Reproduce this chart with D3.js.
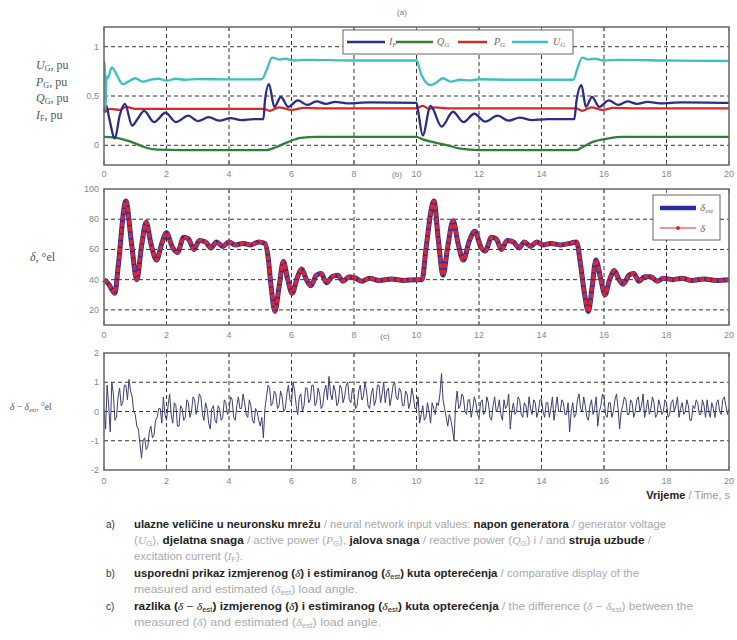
<!DOCTYPE html>
<html>
<head>
<meta charset="utf-8">
<script src="https://cdn.jsdelivr.net/npm/d3@7"></script>
<style>
body { margin: 0; background: #fff; }
svg { display: block; }
</style>
</head>
<body>
<div id="chart"></div>
<script>
var xTicks = [0, 2, 4, 6, 8, 10, 12, 14, 16, 18, 20];
var aTicks = [0, 0.5, 1];
var aTickLabels = ["0", "0,5", "1"];
var bTicks = [20, 40, 60, 80, 100];
var cTicks = [-2, -1, 0, 1, 2];

// (a) [time s, value pu]
var uG = [[0,0.84],[0.03,0.84],[0.05,0.37],[0.08,0.70],[0.12,0.68],[0.25,0.79],[0.4,0.72],[0.6,0.62],[0.8,0.65],[1.0,0.68],[1.25,0.645],[1.5,0.665],[1.75,0.675],[2.0,0.655],[2.3,0.675],[2.6,0.665],[3,0.672],[4,0.668],[5.05,0.67],[5.2,0.76],[5.38,0.89],[5.6,0.87],[5.8,0.878],[6.1,0.86],[6.5,0.866],[8,0.86],[10.0,0.86],[10.15,0.72],[10.45,0.61],[10.65,0.64],[10.85,0.68],[11.1,0.645],[11.4,0.665],[11.7,0.658],[12,0.67],[13,0.665],[15.02,0.665],[15.15,0.78],[15.3,0.89],[15.5,0.87],[15.7,0.878],[16,0.86],[16.5,0.866],[18,0.86],[20,0.855]];
var iF = [[0,0.35],[0.08,0.40],[0.15,0.30],[0.35,0.07],[0.5,0.30],[0.67,0.42],[0.9,0.20],[1.1,0.28],[1.28,0.35],[1.6,0.235],[1.97,0.33],[2.3,0.235],[2.7,0.30],[3.0,0.245],[3.35,0.285],[3.7,0.25],[4.05,0.275],[4.4,0.255],[4.8,0.265],[5.1,0.265],[5.15,0.45],[5.28,0.62],[5.45,0.39],[5.66,0.49],[5.9,0.39],[6.2,0.455],[6.5,0.41],[6.8,0.445],[7.1,0.42],[7.4,0.44],[7.8,0.425],[8.5,0.435],[10.0,0.43],[10.05,0.35],[10.2,0.10],[10.45,0.40],[10.8,0.19],[11.17,0.34],[11.5,0.235],[11.85,0.32],[12.2,0.24],[12.6,0.30],[12.95,0.25],[13.3,0.28],[13.7,0.255],[14.2,0.265],[15.05,0.265],[15.12,0.45],[15.28,0.61],[15.42,0.39],[15.62,0.49],[15.85,0.39],[16.15,0.455],[16.45,0.41],[16.75,0.445],[17.05,0.42],[17.4,0.44],[17.8,0.425],[18.5,0.435],[20,0.43]];
var pG = [[0,0.33],[0.2,0.37],[0.5,0.36],[0.7,0.39],[1.0,0.37],[1.5,0.37],[5.1,0.37],[5.3,0.35],[5.6,0.385],[6.0,0.36],[6.4,0.38],[7,0.375],[10.0,0.375],[10.2,0.40],[10.4,0.37],[10.6,0.385],[11,0.375],[15.1,0.375],[15.3,0.35],[15.6,0.385],[15.95,0.36],[16.3,0.38],[17,0.375],[20,0.375]];
var qG = [[0,0.085],[0.3,0.08],[0.6,0.06],[1.0,0.02],[1.3,-0.02],[1.7,-0.045],[2.5,-0.05],[5.15,-0.05],[5.5,-0.02],[5.9,0.035],[6.3,0.075],[6.8,0.085],[10.0,0.085],[10.2,0.06],[10.5,0.035],[11.0,0.0],[11.4,-0.035],[12.0,-0.05],[15.1,-0.05],[15.3,-0.02],[15.6,0.03],[16.15,0.07],[16.6,0.085],[20,0.085]];

// (b) load angle [time s, deg el]
var delta = [[0,40],[0.15,37],[0.35,31],[0.45,48],[0.7,92],[0.88,64],[1.05,40],[1.2,62],[1.35,78],[1.5,64],[1.68,53],[1.85,64],[2.0,71],[2.18,62],[2.35,58],[2.55,68],[2.7,67],[2.88,60],[3.05,66],[3.25,65],[3.42,61],[3.6,65],[3.8,62],[4.0,65],[4.2,63],[4.45,64],[4.7,63],[4.95,65],[5.15,64],[5.25,55],[5.35,35],[5.47,19],[5.6,35],[5.74,52],[5.88,40],[6.02,31],[6.18,41],[6.32,47],[6.48,40],[6.62,36],[6.8,43],[6.95,44],[7.12,38],[7.3,42],[7.48,43],[7.65,39],[7.85,42],[8.05,41],[8.25,39],[8.5,41],[8.8,39.5],[9.2,40.5],[9.6,39.5],[10.0,40],[10.18,40],[10.3,60],[10.56,92],[10.7,66],[10.85,43],[11.0,62],[11.17,79],[11.33,64],[11.5,53],[11.68,65],[11.87,72],[12.05,62],[12.2,59],[12.4,68],[12.55,67],[12.72,60],[12.9,66],[13.1,65],[13.28,61],[13.45,65],[13.65,62],[13.85,65],[14.05,63],[14.3,64],[14.6,63],[14.9,64],[15.12,65],[15.25,50],[15.38,30],[15.5,19],[15.62,35],[15.74,53],[15.9,40],[16.03,30],[16.18,40],[16.33,46],[16.48,40],[16.62,37],[16.8,43],[16.95,44],[17.12,39],[17.3,42],[17.5,42],[17.7,39],[17.9,41],[18.2,40],[18.5,41],[18.8,39.5],[19.2,40.5],[19.6,39.5],[20,40]];

// (c) difference, one value every 0.05 s from 0 to 20 s
var diffStep = 0.05;
var diff = [
  0.1, -0.6, 0.9, 0.2, -0.7, 1.0, 0.6, -0.3, -0.2, 0.5,
  0.8, 0.2, 0.3, 0.9, 0.9, 0.4, 1.1, 0.7, 0.5, 0.0,
  -0.1, -0.5, -0.6, -1.1, -1.6, -1.0, -0.9, -1.3, -1.2, -0.7,
  -0.5, -0.9, -0.8, -0.3, -0.2, 0.1, 0.1, -0.4, 0.5, -0.1,
  -0.3, 0.2, 0.6, -0.1, -0.4, 0.3, 0.2, -0.5, -0.5, 0.2,
  0.1, -0.3, -0.2, 0.4, 0.3, -0.2, 0.0, 0.5, 0.4, -0.1,
  0.2, 0.6, 0.5, -0.1, -0.3, 0.3, 0.1, -0.4, -0.6, 0.1,
  0.2, -0.3, -0.4, 0.2, 0.1, -0.3, -0.2, 0.4, 0.3, -0.1,
  0.0, 0.5, 0.4, -0.2, -0.3, 0.2, 0.5, 0.1, 0.1, 0.6,
  0.3, -0.1, -0.2, 0.4, 0.2, -0.3, -0.4, 0.1, 0.0, -0.3,
  -0.5, -0.2, -0.9, 0.1, 0.5, 0.9, 0.8, 0.2, 0.3, 0.7,
  0.6, 0.1, 0.2, 0.7, 0.5, 0.0, 0.1, 0.6, 0.9, 0.4,
  0.3, 1.0, 0.7, 0.2, -0.1, 0.5, 0.6, 0.0, 0.2, 0.8,
  0.8, 0.3, 0.4, 0.9, 0.9, 0.2, 0.3, 0.8, 0.6, 0.1,
  0.2, 0.7, 0.9, 0.4, 1.2, 0.6, 0.4, 0.9, 0.7, 0.2,
  0.3, 0.9, 0.8, 0.3, 0.5, 0.9, 1.0, 0.4, 0.3, 0.8,
  0.6, 0.1, 0.2, 0.7, 0.9, 0.4, 0.5, 1.0, 0.7, 0.2,
  0.1, 0.6, 0.8, 0.2, 0.4, 0.9, 0.9, 0.3, 0.6, 1.0,
  0.3, 0.7, 0.8, 0.2, 0.5, 0.9, 1.0, 0.5, 0.4, 0.8,
  0.7, 0.2, 0.2, 0.7, 0.6, 0.1, 0.3, 0.8, 0.5, 0.1,
  0.1, 0.5, -0.4, -0.1, 0.2, -0.3, -0.2, 0.3, 0.0, -0.4,
  0.3, 0.1, -0.1, 0.3, 0.2, 0.6, 1.3, 0.4, 0.1, -0.2,
  -0.5, -0.1, -0.3, -0.6, -1.0, 0.2, 0.7, 0.1, 0.2, 0.6,
  0.5, 0.0, -0.1, 0.4, 0.4, -0.2, 0.1, 0.5, 0.3, -0.1,
  -0.2, 0.3, 0.4, -0.1, 0.0, 0.5, 0.3, -0.2, -0.3, 0.2,
  0.5, 0.0, 0.1, 0.4, -0.1, -0.3, 0.4, 0.1, 0.2, 0.6,
  -0.6, 0.0, 0.3, -0.1, 0.0, 0.5, 0.4, -0.1, -0.2, 0.3,
  0.2, -0.2, 0.5, 0.1, -0.1, 0.4, 0.3, -0.2, 0.0, 0.4,
  0.4, 0.0, -0.2, 0.3, 0.3, -0.2, 0.1, 0.5, -0.3, 0.1,
  0.5, 0.0, 0.0, 0.4, 0.3, -0.1, -0.1, 0.3, -0.7, 0.0,
  0.3, -0.2, -0.1, 0.4, 0.6, 0.1, 0.0, 0.5, 0.2, -0.2,
  -0.3, 0.2, 0.4, -0.1, 0.1, 0.5, -0.5, 0.0, 0.2, 0.6,
  0.5, -0.1, -0.2, 0.3, 0.3, -0.2, 0.0, 0.4, 0.6, 0.1,
  -0.6, 0.0, 0.2, 0.5, 0.4, -0.1, -0.1, 0.4, 0.3, -0.2,
  0.0, 0.4, 0.5, 0.0, 0.2, 0.6, -0.2, 0.1, 0.4, -0.1,
  0.1, 0.5, 0.3, -0.2, -0.1, 0.4, 0.2, -0.1, 0.0, 0.4,
  0.3, -0.2, -0.1, 0.3, 0.4, 0.0, 0.2, 0.5, -0.2, 0.1,
  0.3, -0.1, 0.0, 0.4, 0.2, -0.3, -0.3, 0.2, 0.1, 0.4,
  0.3, -0.1, -0.1, 0.4, 0.2, -0.2, 0.4, 0.0, -0.2, 0.3,
  0.1, -0.2, 0.3, 0.4, 0.0, -0.1, 0.4, 0.5, 0.2, -0.1,
  0.1
];

function init() {
    var w = 737, h = 640;
    var left = 104, right = 729;
    var serif = "'Liberation Serif', 'DejaVu Serif', serif";
    var sans = "'Liberation Sans', Arial, sans-serif";

    var svg = d3.select("#chart").append("svg")
        .attr("width", w).attr("height", h);

    var x = d3.scaleLinear().domain([0, 20]).range([left, right]);

    function panel(top, bottom, domain, gridVals, tickVals, tickFmt, tickLabelY) {
        var y = d3.scaleLinear().domain(domain).range([bottom, top]);
        var g = svg.append("g");
        // grid
        g.selectAll(".vg").data(xTicks.slice(1, -1)).enter().append("line")
            .attr("x1", function(d) { return x(d); }).attr("x2", function(d) { return x(d); })
            .attr("y1", top).attr("y2", bottom)
            .attr("stroke", "#333").attr("stroke-width", 1).attr("stroke-dasharray", "4,3");
        g.selectAll(".hg").data(gridVals).enter().append("line")
            .attr("x1", left).attr("x2", right)
            .attr("y1", function(d) { return y(d); }).attr("y2", function(d) { return y(d); })
            .attr("stroke", "#333").attr("stroke-width", 1).attr("stroke-dasharray", "4,3");
        // y tick labels
        g.selectAll(".yl").data(tickVals).enter().append("text")
            .attr("x", left - 5).attr("y", function(d) { return y(d) + 3; })
            .attr("text-anchor", "end")
            .attr("font-family", sans).attr("font-size", 9).attr("fill", "#888")
            .text(function(d, i) { return tickFmt(d, i); });
        // x tick labels
        g.selectAll(".xl").data(xTicks).enter().append("text")
            .attr("x", function(d) { return x(d); }).attr("y", tickLabelY)
            .attr("text-anchor", "middle")
            .attr("font-family", sans).attr("font-size", 9).attr("fill", "#888")
            .text(function(d) { return d; });
        return { y: y, g: g, top: top, bottom: bottom };
    }

    function frame(p) {
        svg.append("rect").attr("x", left).attr("y", p.top)
            .attr("width", right - left).attr("height", p.bottom - p.top)
            .attr("fill", "none").attr("stroke", "#666").attr("stroke-width", 1.5);
        // inner ticks
        xTicks.forEach(function(d) {
            svg.append("line").attr("x1", x(d)).attr("x2", x(d))
                .attr("y1", p.bottom).attr("y2", p.bottom - 4).attr("stroke", "#666");
            svg.append("line").attr("x1", x(d)).attr("x2", x(d))
                .attr("y1", p.top).attr("y2", p.top + 4).attr("stroke", "#666");
        });
    }

    // ---------- (a)
    var pa = panel(27, 165, [-0.2, 1.2], aTicks, aTicks,
        function(d, i) { return aTickLabels[i]; }, 177);
    var lineA = d3.line().x(function(d) { return x(d[0]); }).y(function(d) { return pa.y(d[1]); })
        .curve(d3.curveMonotoneX);
    var seriesA = [
        { data: qG, color: "#2f7f3a" },
        { data: pG, color: "#d42a2a" },
        { data: iF, color: "#2a2e86" },
        { data: uG, color: "#3fbfbf" }
    ];
    seriesA.forEach(function(s) {
        svg.append("path").datum(s.data).attr("d", lineA)
            .attr("fill", "none").attr("stroke", s.color).attr("stroke-width", 2.3);
    });
    frame(pa);

    // legend (a)
    var lg = svg.append("g");
    lg.append("rect").attr("x", 343).attr("y", 30).attr("width", 230).attr("height", 24)
        .attr("fill", "#fff").attr("stroke", "#666").attr("stroke-width", 1);
    var legA = [
        { x1: 347, x2: 385, color: "#2a2e86", main: "I", sub: "F", tx: 389 },
        { x1: 396, x2: 433, color: "#2f7f3a", main: "Q", sub: "G", tx: 437 },
        { x1: 458, x2: 487, color: "#d42a2a", main: "P", sub: "G", tx: 494 },
        { x1: 512, x2: 548, color: "#3fbfbf", main: "U", sub: "G", tx: 553 }
    ];
    legA.forEach(function(l) {
        lg.append("line").attr("x1", l.x1).attr("x2", l.x2).attr("y1", 42).attr("y2", 42)
            .attr("stroke", l.color).attr("stroke-width", 2.5);
        var t = lg.append("text").attr("x", l.tx).attr("y", 45)
            .attr("font-family", serif).attr("font-size", 10).attr("fill", "#666")
            .attr("font-style", "italic");
        t.append("tspan").text(l.main);
        t.append("tspan").attr("dy", 2).attr("font-size", 7).text(l.sub);
    });

    // y label (a)
    var yLabA = [["U", "G", 69], ["P", "G", 86], ["Q", "G", 102], ["I", "F", 119]];
    yLabA.forEach(function(l) {
        var t = svg.append("text").attr("x", 36).attr("y", l[2])
            .attr("font-family", serif).attr("font-size", 12).attr("fill", "#555");
        t.append("tspan").attr("font-style", "italic").text(l[0]);
        t.append("tspan").attr("dy", 2).attr("font-size", 8).text(l[1]);
        t.append("tspan").attr("dy", -2).text(", pu");
    });

    svg.append("text").attr("x", 402).attr("y", 15).attr("text-anchor", "middle")
        .attr("font-family", sans).attr("font-size", 8).attr("fill", "#777").text("(a)");

    // ---------- (b)
    var pb = panel(189, 325, [10, 100], [20, 40, 60, 80], bTicks,
        function(d) { return d; }, 338);
    var lineB = d3.line().x(function(d) { return x(d[0]); }).y(function(d) { return pb.y(d[1]); })
        .curve(d3.curveMonotoneX);
    svg.append("path").datum(delta).attr("d", lineB)
        .attr("fill", "none").attr("stroke", "#2a2e9a").attr("stroke-width", 5);
    svg.append("path").datum(delta).attr("d", lineB)
        .attr("fill", "none").attr("stroke", "#e0262a").attr("stroke-width", 3.6)
        .attr("stroke-dasharray", "5,1.5");
    frame(pb);

    svg.append("text").attr("x", 397).attr("y", 177).attr("text-anchor", "middle")
        .attr("font-family", sans).attr("font-size", 8).attr("fill", "#777").text("(b)");

    // legend (b)
    var lb = svg.append("g");
    lb.append("rect").attr("x", 653).attr("y", 195).attr("width", 67).attr("height", 45)
        .attr("fill", "#fff").attr("stroke", "#666").attr("stroke-width", 1);
    lb.append("line").attr("x1", 660).attr("x2", 696).attr("y1", 208).attr("y2", 208)
        .attr("stroke", "#2a2e9a").attr("stroke-width", 4.5);
    lb.append("line").attr("x1", 660).attr("x2", 696).attr("y1", 228).attr("y2", 228)
        .attr("stroke", "#d42a2a").attr("stroke-width", 1);
    lb.append("circle").attr("cx", 678).attr("cy", 228).attr("r", 2).attr("fill", "#d42a2a");
    var tb1 = lb.append("text").attr("x", 700).attr("y", 211)
        .attr("font-family", serif).attr("font-size", 11).attr("fill", "#666").attr("font-style", "italic");
    tb1.append("tspan").text("δ");
    tb1.append("tspan").attr("dy", 2).attr("font-size", 7).text("est");
    lb.append("text").attr("x", 700).attr("y", 232)
        .attr("font-family", serif).attr("font-size", 11).attr("fill", "#666").attr("font-style", "italic")
        .text("δ");

    var tbl = svg.append("text").attr("x", 30).attr("y", 261)
        .attr("font-family", serif).attr("font-size", 12).attr("fill", "#555");
    tbl.append("tspan").attr("font-style", "italic").text("δ");
    tbl.append("tspan").text(", °el");

    // ---------- (c)
    var pc = panel(353, 470, [-2, 2], [-1, 0, 1], cTicks,
        function(d) { return d; }, 484);
    var lineC = d3.line()
        .x(function(d, i) { return x(i * diffStep); })
        .y(function(d) { return pc.y(d); });
    svg.append("path").datum(diff).attr("d", lineC)
        .attr("fill", "none").attr("stroke", "#3d3f70").attr("stroke-width", 1);
    frame(pc);

    svg.append("text").attr("x", 385).attr("y", 339).attr("text-anchor", "middle")
        .attr("font-family", sans).attr("font-size", 8).attr("fill", "#777").text("(c)");

    var tcl = svg.append("text").attr("x", 10).attr("y", 410)
        .attr("font-family", serif).attr("font-size", 9.5).attr("fill", "#555");
    tcl.append("tspan").attr("font-style", "italic").text("δ");
    tcl.append("tspan").text(" − ");
    tcl.append("tspan").attr("font-style", "italic").text("δ");
    tcl.append("tspan").attr("dy", 2).attr("font-size", 6.5).text("est");
    tcl.append("tspan").attr("dy", -2).text(", °el");

    // x axis title
    var xt = svg.append("text").attr("x", 730).attr("y", 499).attr("text-anchor", "end")
        .attr("font-family", sans).attr("font-size", 11);
    xt.append("tspan").attr("font-weight", "bold").attr("fill", "#222").text("Vrijeme");
    xt.append("tspan").attr("fill", "#999").text(" / Time, s");

    // caption
    var bold = "#222", grey = "#aaa";
    var cap = [
        { label: "a)", y: 528, len: 532, parts: [
            ["ulazne veličine u neuronsku mrežu", bold, true], [" / neural network input values: ", grey],
            ["napon generatora", bold, true], [" / generator voltage", grey]] },
        { y: 544, len: 517, parts: [
            ["(", grey], ["U", grey, false, "i"], ["G", grey, false, "s"], ["), ", grey],
            ["djelatna snaga", bold, true], [" / active power (", grey], ["P", grey, false, "i"], ["G", grey, false, "s"],
            ["), ", grey], ["jalova snaga", bold, true], [" / reactive power (", grey], ["Q", grey, false, "i"],
            ["G", grey, false, "s"], [") i", grey], [" / and ", grey], ["struja uzbude", bold, true], [" /", grey]] },
        { y: 560, len: 109, parts: [
            ["excitation current (", grey], ["I", grey, false, "i"], ["F", grey, false, "s"], [").", grey]] },
        { label: "b)", y: 577, len: 505, parts: [
            ["usporedni prikaz izmjerenog (", bold, true], ["δ", bold, false, "i"], [") i estimiranog (", bold, true],
            ["δ", bold, false, "i"], ["est", bold, false, "s"], [") kuta opterećenja", bold, true],
            [" / comparative display of the", grey]] },
        { y: 593, len: 224, parts: [
            ["measured and estimated (", grey], ["δ", grey, false, "i"], ["est", grey, false, "s"], [") load angle.", grey]] },
        { label: "c)", y: 610, len: 559, parts: [
            ["razlika (", bold, true], ["δ", bold, false, "i"], [" − ", bold], ["δ", bold, false, "i"], ["est", bold, false, "s"],
            [") izmjerenog (", bold, true], ["δ", bold, false, "i"], [") i estimiranog (", bold, true], ["δ", bold, false, "i"],
            ["est", bold, false, "s"], [") kuta opterećenja", bold, true], [" / the difference (", grey],
            ["δ", grey, false, "i"], [" − ", grey], ["δ", grey, false, "i"], ["est", grey, false, "s"], [") between the", grey]] },
        { y: 626, len: 247, parts: [
            ["measured (", grey], ["δ", grey, false, "i"], [") and estimated (", grey], ["δ", grey, false, "i"],
            ["est", grey, false, "s"], [") load angle.", grey]] }
    ];
    cap.forEach(function(c) {
        if (c.label) {
            svg.append("text").attr("x", 106).attr("y", c.y)
                .attr("font-family", sans).attr("font-size", 10).attr("fill", "#333").text(c.label);
        }
        var t = svg.append("text").attr("x", 134).attr("y", c.y)
            .attr("font-family", sans).attr("font-size", 10)
            .attr("textLength", c.len).attr("lengthAdjust", "spacingAndGlyphs");
        var shifted = false;
        c.parts.forEach(function(p) {
            var ts = t.append("tspan").attr("fill", p[1]).text(p[0]);
            if (p[2]) ts.attr("font-weight", "bold");
            if (p[3] === "i") ts.attr("font-style", "italic").attr("font-family", serif);
            if (p[3] === "s") { ts.attr("font-size", 6.5).attr("dy", 2); shifted = true; }
            else if (shifted) { ts.attr("dy", -2); shifted = false; }
        });
    });
}

window.onload = init;
</script>
</body>
</html>
